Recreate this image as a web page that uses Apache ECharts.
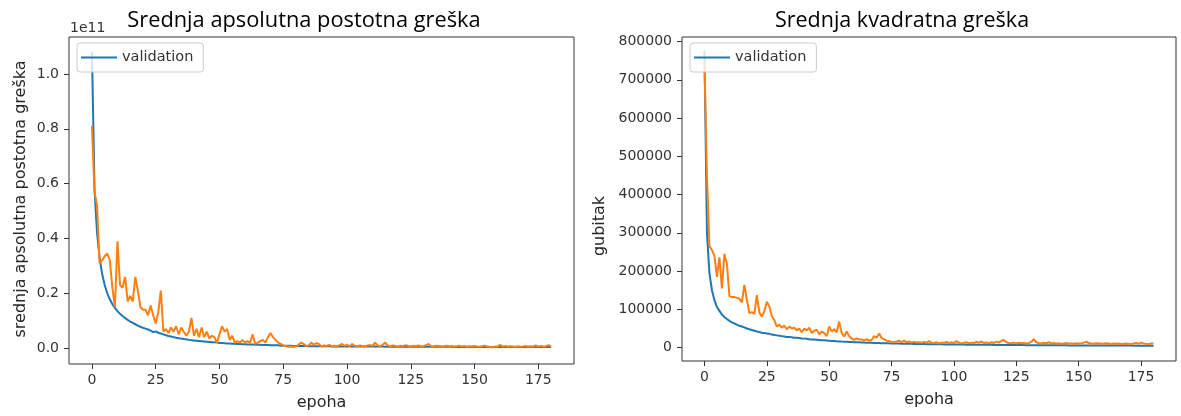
<!DOCTYPE html>
<html>
<head>
<meta charset="utf-8">
<script src="https://cdn.jsdelivr.net/npm/echarts@6/dist/echarts.min.js"></script>
<style>
html,body{margin:0;padding:0;background:#fff;}
#chart{width:1181px;height:416px;}
</style>
</head>
<body>
<div id="chart"></div>
<script>
// ---------- DATA ----------
// epochs 0..180
const epochs = Array.from({length: 181}, (_, i) => i);

// Left chart: mean absolute percentage error, values in units of 1e11
const mapeOffsetLabel = '1e11';
const mapeBlue = [
1.08,0.58,0.42,0.33,0.27,0.23,0.20,0.178,0.160,0.147,
0.135,0.125,0.117,0.110,0.103,0.097,0.092,0.087,0.082,0.078,
0.074,0.071,0.068,0.064,0.058,0.061,0.056,0.053,0.050,0.047,
0.044,0.042,0.040,0.038,0.036,0.035,0.033,0.032,0.030,0.029,
0.028,0.027,0.026,0.025,0.024,0.023,0.022,0.021,0.021,0.020,
0.019,0.019,0.018,0.017,0.017,0.016,0.016,0.015,0.015,0.014,
0.014,0.013,0.013,0.013,0.012,0.012,0.012,0.011,0.011,0.011,
0.010,0.010,0.010,0.010,0.009,0.009,0.009,0.009,0.009,0.008,
0.008,0.008,0.008,0.008,0.008,0.007,0.007,0.007,0.007,0.007,
0.007,0.007,0.007,0.007,0.006,0.006,0.006,0.006,0.006,0.006,
0.006,0.006,0.006,0.006,0.006,0.0058,0.0058,0.0057,0.0057,0.0056,
0.0056,0.0055,0.0055,0.0054,0.0054,0.0053,0.0053,0.0052,0.0052,0.0052,
0.0051,0.0051,0.0050,0.0050,0.0050,0.0049,0.0049,0.0049,0.0048,0.0048,
0.0048,0.0047,0.0047,0.0047,0.0046,0.0046,0.0046,0.0046,0.0045,0.0045,
0.0045,0.0045,0.0044,0.0044,0.0044,0.0044,0.0043,0.0043,0.0043,0.0043,
0.0043,0.0042,0.0042,0.0042,0.0042,0.0041,0.0041,0.0041,0.0041,0.0041,
0.0040,0.0040,0.0040,0.0040,0.0040,0.0039,0.0039,0.0039,0.0039,0.0039,
0.0039,0.0038,0.0038,0.0038,0.0038,0.0038,0.0037,0.0037,0.0037,0.0037,0.0037
];
const mapeOrange = [
0.81,0.57,0.52,0.31,0.32,0.335,0.345,0.32,0.22,0.15,
0.39,0.23,0.22,0.26,0.17,0.19,0.17,0.26,0.21,0.15,
0.14,0.14,0.12,0.155,0.12,0.09,0.13,0.21,0.06,0.07,
0.055,0.075,0.06,0.08,0.05,0.075,0.06,0.045,0.06,0.11,
0.045,0.07,0.04,0.075,0.04,0.06,0.035,0.045,0.04,0.02,
0.05,0.08,0.06,0.07,0.03,0.045,0.02,0.025,0.02,0.03,
0.02,0.025,0.02,0.05,0.015,0.02,0.025,0.03,0.02,0.04,
0.055,0.04,0.03,0.02,0.015,0.01,0.008,0.005,0.006,0.004,
0.007,0.012,0.02,0.015,0.008,0.01,0.02,0.012,0.018,0.015,
0.006,0.01,0.008,0.012,0.006,0.009,0.007,0.01,0.015,0.008,
0.012,0.007,0.015,0.009,0.006,0.01,0.008,0.007,0.009,0.011,
0.008,0.02,0.01,0.007,0.012,0.02,0.009,0.006,0.01,0.008,
0.006,0.009,0.007,0.011,0.008,0.006,0.009,0.007,0.01,0.006,
0.008,0.011,0.015,0.007,0.006,0.009,0.008,0.006,0.007,0.009,
0.006,0.008,0.005,0.007,0.009,0.006,0.008,0.005,0.007,0.006,
0.008,0.006,0.005,0.007,0.009,0.006,0.004,0.003,0.006,0.005,
0.012,0.006,0.008,0.005,0.007,0.006,0.004,0.007,0.005,0.006,
0.008,0.005,0.007,0.006,0.01,0.006,0.008,0.005,0.007,0.011,0.006
];

// Right chart: mean squared error (loss)
const mseBlue = [
775000,300000,195000,150000,124000,106000,96000,87000,80000,75000,
70000,66000,63000,60000,57000,55000,53000,50000,48000,46000,
44000,42000,41000,39000,38000,37000,36000,34000,33000,32000,
31000,30000,29000,28000,27500,27000,26000,25500,25000,24000,
23500,23000,22000,21500,21000,20500,20000,19500,19000,18500,
18000,17500,17000,16500,16200,15800,15500,15200,14800,14500,
14200,14000,13700,13400,13200,13000,12700,12500,12300,12100,
11900,11700,11500,11300,11100,11000,10800,10600,10500,10300,
10200,10000,9900,9800,9700,9500,9400,9300,9200,9100,
9000,8900,8800,8700,8600,8500,8450,8400,8300,8200,
8100,8050,8000,7900,7850,7800,7700,7650,7600,7500,
7450,7400,7350,7300,7250,7200,7150,7100,7050,7000,
6950,6900,6850,6800,6750,6700,6650,6600,6550,6500,
6450,6400,6380,6340,6300,6260,6220,6180,6140,6100,
6060,6020,5980,5940,5900,5870,5840,5810,5780,5750,
5720,5690,5660,5630,5600,5570,5540,5510,5480,5450,
5420,5400,5380,5360,5340,5320,5300,5280,5260,5240,
5220,5200,5180,5160,5140,5120,5100,5080,5060,5040,5020
];
const mseOrange = [
745000,450000,265000,255000,240000,185000,236000,155000,245000,220000,
135000,132000,132000,130000,128000,118000,164000,125000,90000,93000,
88000,137000,92000,81000,95000,120000,108000,82000,72000,55000,
60000,52000,58000,48000,55000,50000,52000,45000,50000,40000,
50000,45000,52000,38000,44000,47000,35000,42000,38000,30000,
55000,42000,48000,40000,68000,38000,29000,42000,30000,24000,
20000,24000,22000,21000,19000,22000,18000,20000,30000,26000,
37000,25000,22000,18000,17000,15500,15000,16000,18000,14000,
18000,14000,16000,13000,15000,13500,14000,12500,15000,13000,
17000,13000,12000,14000,11000,13000,12500,15000,12000,13500,
12000,17000,13000,11000,12500,14000,11500,13000,12000,15000,
13000,16000,12000,13500,11000,14000,12000,15500,13000,18000,
20000,14000,12000,11500,13000,11000,12500,11500,12000,11000,
12000,15000,22000,14000,12000,11000,12500,11500,14000,11000,
12000,10500,11500,10000,11000,12000,10500,11000,10000,11500,
10500,11000,13000,15500,12000,11000,10000,11500,10500,11000,
10000,11500,10500,9500,11000,10000,10500,9500,10000,11000,
10000,9500,10500,12000,10000,13000,11000,10000,9500,11000,10500
];

// Tick labels
const xTicks = [0, 25, 50, 75, 100, 125, 150, 175];
const mapeTicks = [0, 0.2, 0.4, 0.6, 0.8, 1.0];
const mseTicks = [0, 100000, 200000, 300000, 400000, 500000, 600000, 700000, 800000];

const titles = ['Srednja apsolutna postotna greška', 'Srednja kvadratna greška'];
const yNames = ['srednja apsolutna postotna greška', 'gubitak'];
const xName = 'epoha';
const legendLabel = 'validation';

// ---------- CHART ----------
const BLUE = '#1f77b4', ORANGE = '#ff7f0e';
const TXT = '#262626';
const tickFont = {fontFamily: 'DejaVu Sans', fontSize: 14, color: '#333'};

function pairs(ys) { return ys.map((v, i) => [epochs[i], v]); }

function xAxisCfg(gridIndex) {
  return {
    type: 'value', gridIndex, min: -9, max: 189, position: 'bottom',
    name: xName, nameLocation: 'middle', nameGap: 31,
    nameTextStyle: {fontFamily: 'DejaVu Sans', fontSize: 16, color: TXT},
    axisLine: {show: false, onZero: false},
    axisTick: {show: true, inside: false, length: 5, customValues: xTicks, lineStyle: {color: '#333'}},
    axisLabel: Object.assign({customValues: xTicks, margin: 9}, tickFont),
    splitLine: {show: false}
  };
}

function legendCfg(left) {
  return {
    data: [legendLabel], left, top: 43, orient: 'vertical',
    icon: 'rect', itemWidth: 36, itemHeight: 2,
    padding: [7, 10, 7, 4],
    backgroundColor: 'rgba(255,255,255,0.8)', borderColor: '#cccccc', borderWidth: 1, borderRadius: 3,
    textStyle: {fontFamily: 'DejaVu Sans', fontSize: 14.5, color: '#333'},
    selectedMode: false
  };
}

const chart = echarts.init(document.getElementById('chart'), null, {renderer: 'canvas'});
chart.setOption({
  animation: false,
  backgroundColor: '#fff',
  grid: [
    {left: 69, top: 37, width: 505, height: 328, show: true, borderColor: '#333', borderWidth: 1, backgroundColor: 'transparent'},
    {left: 682, top: 37, width: 494, height: 324, show: true, borderColor: '#333', borderWidth: 1, backgroundColor: 'transparent'}
  ],
  xAxis: [xAxisCfg(0), xAxisCfg(1)],
  yAxis: [
    {
      type: 'value', gridIndex: 0, min: -0.058, max: 1.135, position: 'left',
      axisLine: {show: false, onZero: false},
      axisTick: {show: true, length: 5, customValues: mapeTicks, lineStyle: {color: '#333'}},
      axisLabel: Object.assign({customValues: mapeTicks, margin: 10, formatter: v => v.toFixed(1)}, tickFont),
      splitLine: {show: false}
    },
    {
      type: 'value', gridIndex: 1, min: -35000, max: 812000, position: 'left',
      axisLine: {show: false, onZero: false},
      axisTick: {show: true, length: 5, customValues: mseTicks, lineStyle: {color: '#333'}},
      axisLabel: Object.assign({customValues: mseTicks, margin: 10, formatter: v => String(Math.round(v))}, tickFont),
      splitLine: {show: false}
    }
  ],
  legend: [legendCfg(77), legendCfg(690)],
  series: [
    {name: legendLabel, type: 'line', xAxisIndex: 0, yAxisIndex: 0, data: pairs(mapeBlue),
      showSymbol: false, symbol: 'none', lineStyle: {color: BLUE, width: 2}, itemStyle: {color: BLUE}, z: 2},
    {name: 'val', type: 'line', xAxisIndex: 0, yAxisIndex: 0, data: pairs(mapeOrange),
      showSymbol: false, symbol: 'none', lineStyle: {color: ORANGE, width: 2}, itemStyle: {color: ORANGE}, z: 3},
    {name: legendLabel, type: 'line', xAxisIndex: 1, yAxisIndex: 1, data: pairs(mseBlue),
      showSymbol: false, symbol: 'none', lineStyle: {color: BLUE, width: 2}, itemStyle: {color: BLUE}, z: 2},
    {name: 'val', type: 'line', xAxisIndex: 1, yAxisIndex: 1, data: pairs(mseOrange),
      showSymbol: false, symbol: 'none', lineStyle: {color: ORANGE, width: 2}, itemStyle: {color: ORANGE}, z: 3}
  ],
  graphic: [
    {type: 'text', x: 304, y: 21, style: {text: titles[0], font: '21.8px "Open Sans"', fill: '#000', textAlign: 'center', textVerticalAlign: 'middle'}},
    {type: 'text', x: 902, y: 21, style: {text: titles[1], font: '21.5px "Open Sans"', fill: '#000', textAlign: 'center', textVerticalAlign: 'middle'}},
    {type: 'text', x: 70, y: 28, style: {text: mapeOffsetLabel, font: '14px "DejaVu Sans"', fill: '#333', textAlign: 'left', textVerticalAlign: 'middle'}},
    {type: 'text', x: 21, y: 199, rotation: Math.PI / 2, style: {text: yNames[0], font: '16px "DejaVu Sans"', fill: TXT, textAlign: 'center', textVerticalAlign: 'middle'}},
    {type: 'text', x: 600, y: 226, rotation: Math.PI / 2, style: {text: yNames[1], font: '16px "DejaVu Sans"', fill: TXT, textAlign: 'center', textVerticalAlign: 'middle'}}
  ]
});
</script>
</body>
</html>
